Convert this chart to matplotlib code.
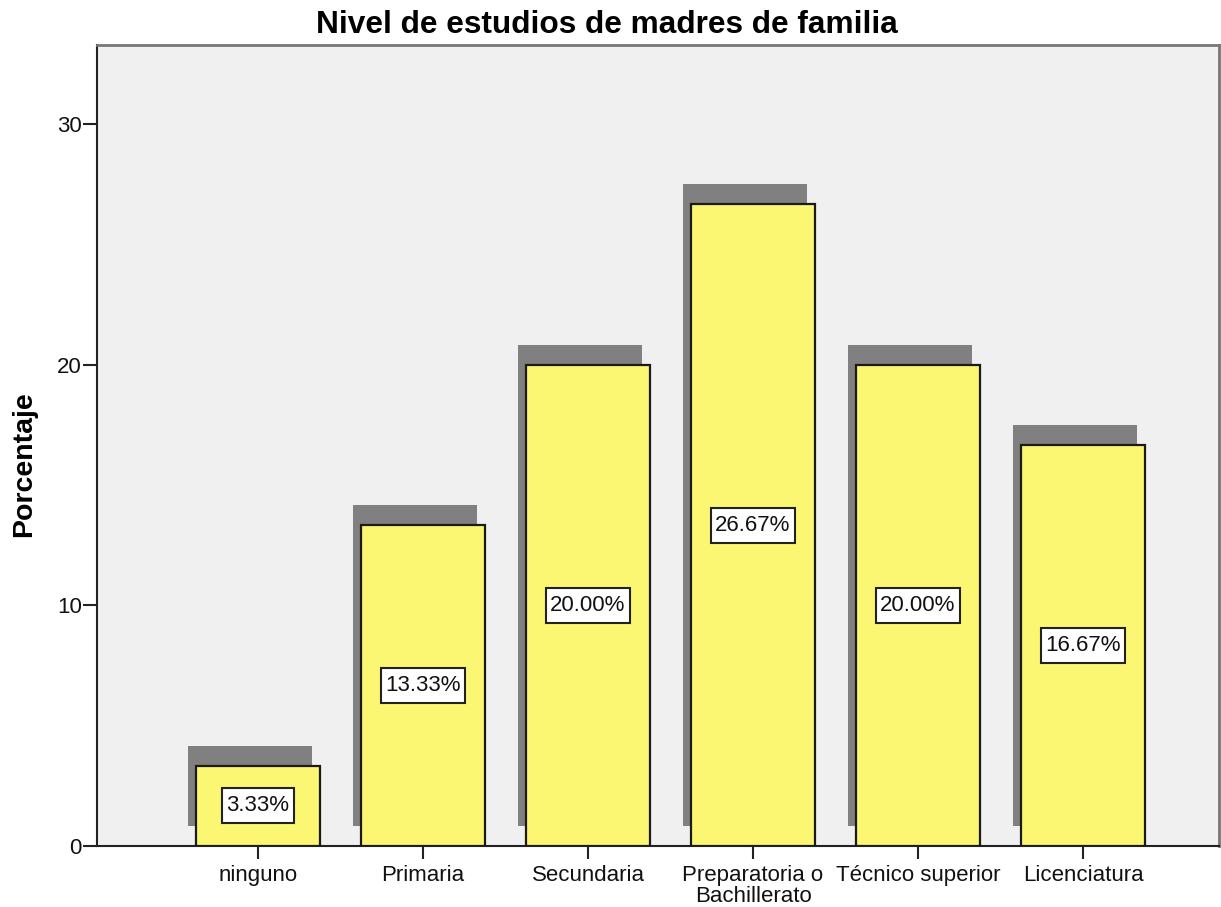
import matplotlib
matplotlib.use("Agg")
import matplotlib.pyplot as plt
from matplotlib.patches import Rectangle
import numpy as np

plt.rcParams['font.family'] = ['Liberation Sans', 'DejaVu Sans']

categories = ["ninguno", "Primaria", "Secundaria", "Preparatoria o\nBachillerato",
              "Técnico superior", "Licenciatura"]
percentages = [3.33, 13.33, 20.00, 26.67, 20.00, 16.67]
yticks = [0, 10, 20, 30]

fig = plt.figure(figsize=(12.21, 9.07), dpi=100)
ax = fig.add_axes([97/1221, 1 - 846/907, (1219-97)/1221, (846-45)/907])
ax.set_facecolor("#F0F0F0")

x = np.arange(len(categories))
width = 0.75
sdx, sdy = -0.05, 0.83

# shadows
ax.bar(x + sdx, percentages, width=width, bottom=sdy, color="#808080",
       edgecolor="none", zorder=2)
# bars
ax.bar(x, percentages, width=width, color="#FBF773", edgecolor="#1a1a1a",
       linewidth=1.6, zorder=3)

labels = []
for xi, v in zip(x, percentages):
    t = ax.text(xi, v / 2, f"{v:.2f}%", ha="center", va="center", fontsize=16,
                color="#111111", zorder=6)
    labels.append(t)

ax.set_xlim(-0.976, 5.824)
ax.set_ylim(0, 33.28)
ax.set_yticks(yticks)
ax.set_xticks(x)
ax.set_xticklabels(categories, fontsize=16, color="#111111", linespacing=0.95)
ax.tick_params(axis="y", labelsize=16, length=10, width=1.5, pad=1,
               colors="#222222", labelcolor="#111111")
ax.tick_params(axis="x", length=9, width=1.5, pad=5, colors="#222222",
               labelcolor="#111111")

for s in ["left", "bottom"]:
    ax.spines[s].set_color("#222222")
    ax.spines[s].set_linewidth(1.5)
for s in ["top", "right"]:
    ax.spines[s].set_color("#777777")
    ax.spines[s].set_linewidth(2)

ax.set_ylabel("Porcentaje", fontsize=20.5, fontweight="bold", va="center")
ax.yaxis.set_label_coords((24 - 97) / 1122, (846 - 464) / 801)
fig.text(607 / 1221, 1 - 25 / 907, "Nivel de estudios de madres de familia",
         ha="center", va="center", fontsize=22.8, fontweight="bold")

# boxes around value labels
fig.canvas.draw()
renderer = fig.canvas.get_renderer()
for t in labels:
    bb = t.get_window_extent(renderer)
    cx = (bb.x0 + bb.x1) / 2
    cy = (bb.y0 + bb.y1) / 2
    w = bb.width + 9
    h = 35
    rect = Rectangle((cx - w / 2, cy - h / 2), w, h, transform=None,
                     facecolor="white", edgecolor="#222222", linewidth=1.5,
                     zorder=5)
    ax.add_artist(rect)

fig.savefig("out.png", dpi=100)
